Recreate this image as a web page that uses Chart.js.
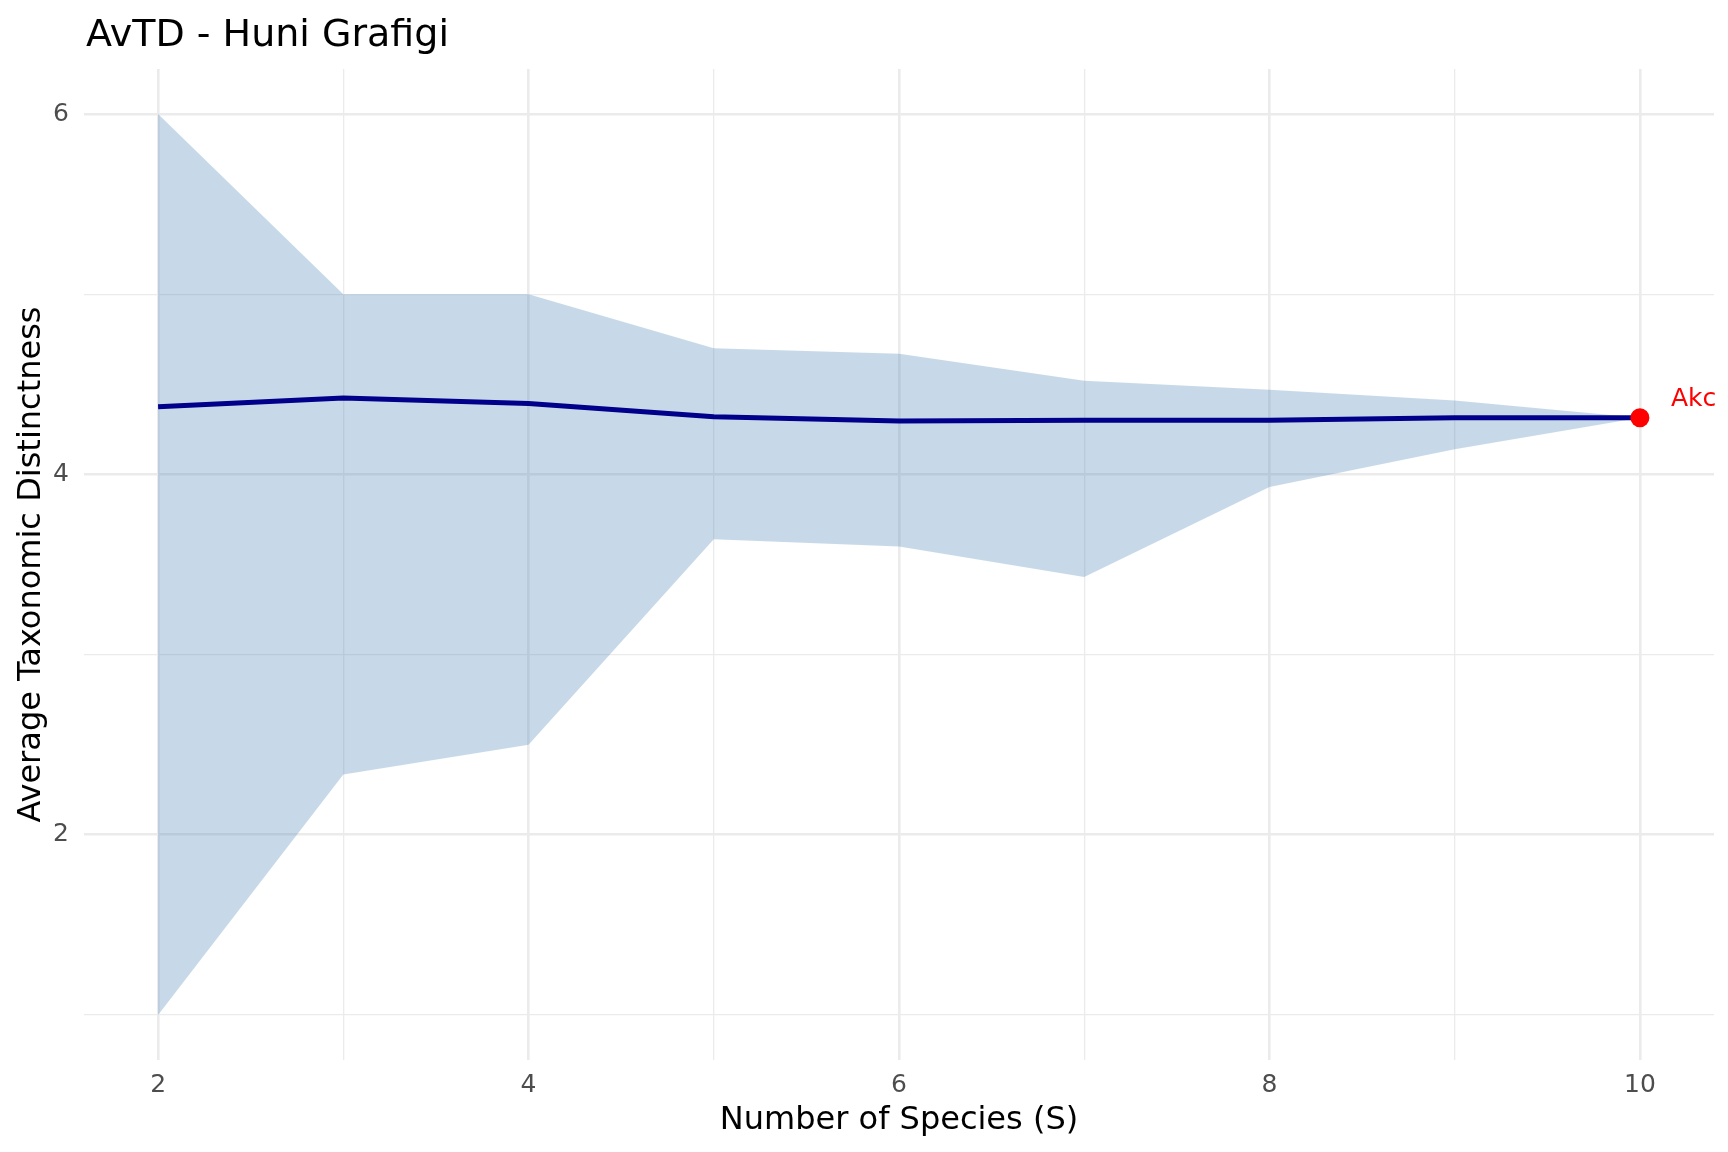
<!DOCTYPE html>
<html>
<head>
<meta charset="utf-8">
<script src="https://cdn.jsdelivr.net/npm/chart.js@4"></script>
<style>
  body { margin: 0; background: #fff; }
  canvas { display: block; }
</style>
</head>
<body>
<canvas id="chart" width="1728" height="1152"></canvas>
<script>
const species = [2, 3, 4, 5, 6, 7, 8, 9, 10];
const avgTD = [4.375, 4.424, 4.393, 4.32, 4.296, 4.30, 4.30, 4.314, 4.314];
const upper = [6.0, 5.0, 5.0, 4.70, 4.67, 4.52, 4.47, 4.41, 4.314];
const lower = [1.0, 2.335, 2.50, 3.64, 3.60, 3.43, 3.93, 4.14, 4.314];
const site = { name: 'Akc', s: 10, value: 4.314 };
const xTicks = [2, 3, 4, 5, 6, 7, 8, 9, 10];
const yTicks = [1, 2, 3, 4, 5, 6];

const FONT = 'DejaVu Sans';

function pts(ys) {
  return species.map((s, i) => ({ x: s, y: ys[i] }));
}

// title and the site label are drawn by hand
const extras = {
  id: 'extras',
  afterDraw(chart) {
    const c = chart.ctx;
    const area = chart.chartArea;
    c.save();
    c.fillStyle = '#000';
    c.font = '38px "' + FONT + '"';
    c.textAlign = 'left';
    c.textBaseline = 'alphabetic';
    c.fillText('AvTD - Huni Grafigi', area.left + 2, 46);

    const px = chart.scales.x.getPixelForValue(site.s);
    const py = chart.scales.y.getPixelForValue(site.value);
    c.fillStyle = '#ff0000';
    c.font = '25px "' + FONT + '"';
    c.textBaseline = 'middle';
    c.fillText(site.name, px + 31, py - 18);
    c.restore();
  }
};

const ctx = document.querySelector('#chart').getContext('2d');

new Chart(ctx, {
  type: 'line',
  data: {
    datasets: [
      {
        data: [{ x: site.s, y: site.value }],
        showLine: false,
        pointRadius: 9.5,
        pointBackgroundColor: '#ff0000',
        pointBorderWidth: 0,
        order: 0
      },
      {
        data: pts(avgTD),
        borderColor: '#00008b',
        borderWidth: 5,
        pointRadius: 0,
        tension: 0,
        fill: false,
        order: 1
      },
      {
        data: pts(upper),
        borderWidth: 0,
        pointRadius: 0,
        tension: 0,
        fill: '+1',
        backgroundColor: 'rgba(70,130,180,0.3)',
        order: 2
      },
      {
        data: pts(lower),
        borderWidth: 0,
        pointRadius: 0,
        tension: 0,
        fill: false,
        order: 3
      }
    ]
  },
  options: {
    responsive: false,
    devicePixelRatio: 1,
    animation: false,
    layout: { padding: { top: 69, right: 14, left: 0, bottom: 0 } },
    plugins: {
      legend: { display: false },
      tooltip: { enabled: false }
    },
    scales: {
      x: {
        type: 'linear',
        min: 1.6,
        max: 10.4,
        afterBuildTicks(scale) { scale.ticks = xTicks.map(v => ({ value: v })); },
        afterFit(scale) { scale.height = 92; },
        border: { display: false },
        grid: {
          drawTicks: false,
          color: '#ebebeb',
          lineWidth: c => (c.tick && c.tick.value % 2 === 0 ? 2.6 : 1.3)
        },
        ticks: {
          autoSkip: false,
          maxRotation: 0,
          padding: 10,
          color: '#4d4d4d',
          font: { family: FONT, size: 25 },
          callback: v => (v % 2 === 0 ? String(v) : '')
        },
        title: {
          display: true,
          text: 'Number of Species (S)',
          color: '#000',
          font: { family: FONT, size: 32 },
          padding: { top: 0, bottom: 12 }
        }
      },
      y: {
        type: 'linear',
        min: 0.75,
        max: 6.25,
        afterBuildTicks(scale) { scale.ticks = yTicks.map(v => ({ value: v })); },
        afterFit(scale) { scale.width = 84; },
        border: { display: false },
        grid: {
          drawTicks: false,
          color: '#ebebeb',
          lineWidth: c => (c.tick && c.tick.value % 2 === 0 ? 2.6 : 1.3)
        },
        ticks: {
          autoSkip: false,
          padding: 15,
          color: '#4d4d4d',
          font: { family: FONT, size: 25 },
          callback: v => (v % 2 === 0 ? String(v) : '')
        },
        title: {
          display: true,
          text: 'Average Taxonomic Distinctness',
          color: '#000',
          font: { family: FONT, size: 32 },
          padding: { top: 12, bottom: 0 }
        }
      }
    }
  },
  plugins: [extras]
});
</script>
</body>
</html>
